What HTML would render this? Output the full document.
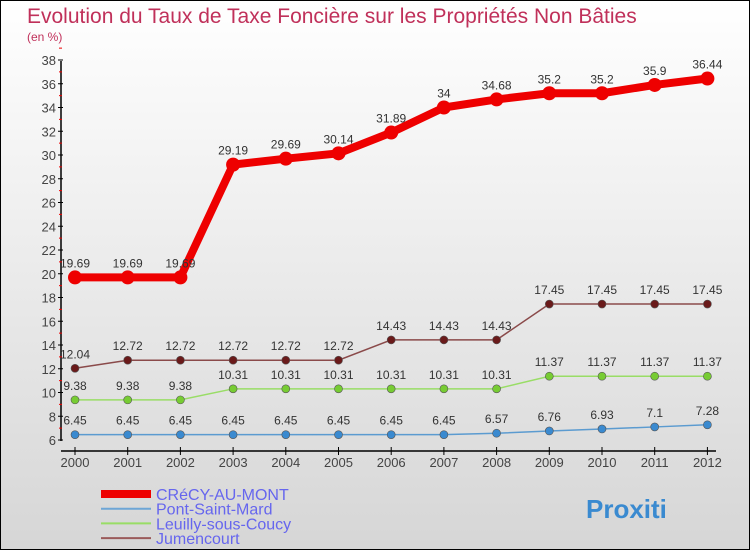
<!DOCTYPE html>
<html><head><meta charset="utf-8"><style>
body{margin:0}
#c{width:748px;height:548px;border:1px solid #000;background:linear-gradient(#fff,#d6d6d6);position:relative;font-family:"Liberation Sans",sans-serif}
</style></head><body>
<div id="c">
<svg id="s" width="748" height="548" style="position:absolute;left:0;top:0">
<text x="26" y="22" font-size="21" fill="#c0305a">Evolution du Taux de Taxe Foncière sur les Propriétés Non Bâties</text>
<text x="26" y="40" font-size="12" fill="#c0305a">(en %)</text>
<g id="g"></g>
</svg>
</div>
<script>
const years=[2000,2001,2002,2003,2004,2005,2006,2007,2008,2009,2010,2011,2012];
const crecy=[19.69,19.69,19.69,29.19,29.69,30.14,31.89,34,34.68,35.2,35.2,35.9,36.44];
const pont=[6.45,6.45,6.45,6.45,6.45,6.45,6.45,6.45,6.57,6.76,6.93,7.1,7.28];
const leuilly=[9.38,9.38,9.38,10.31,10.31,10.31,10.31,10.31,10.31,11.37,11.37,11.37,11.37];
const jumen=[12.04,12.72,12.72,12.72,12.72,12.72,14.43,14.43,14.43,17.45,17.45,17.45,17.45];
const yTicks=[6,8,10,12,14,16,18,20,22,24,26,28,30,32,34,36,38];
const names=["CRéCY-AU-MONT","Pont-Saint-Mard","Leuilly-sous-Coucy","Jumencourt"];
const X=i=>74+i*52.7, Y=v=>439-(v-6)*11.875;
const g=document.getElementById('g');const NS="http://www.w3.org/2000/svg";
function mk(t,a,txt){const e=document.createElementNS(NS,t);for(const k in a)e.setAttribute(k,a[k]);if(txt!==undefined)e.textContent=txt;g.appendChild(e);return e;}
let e=mk('line',{x1:60,y1:60,x2:60,y2:440,stroke:'#000','stroke-width':1.5});


e=mk('line',{x1:60,y1:450,x2:715,y2:450,stroke:'#000','stroke-width':1.5});


yTicks.forEach(v=>{
 mk('line',{x1:57,x2:62,y1:Y(v),y2:Y(v),stroke:'#000'});
 mk('line',{x1:58,x2:61,y1:Y(v+1),y2:Y(v+1),stroke:'#e00'});
 e=mk('text',{x:55,y:Y(v)+5,'font-size':13,fill:'#444','text-anchor':'end'},v);
 
 
});
years.forEach((yr,i)=>{
 mk('line',{x1:X(i),x2:X(i),y1:446,y2:454,stroke:'#000'});
 e=mk('text',{x:X(i),y:466,'font-size':13,fill:'#444','text-anchor':'middle'},yr);
 
 
});
const series=[[pont,'#5b9bd0','#3a8ad0',1.5,4],[leuilly,'#99dd66','#77cc33',1.5,4],[jumen,'#8a4a4a','#6a1a1a',1.5,4],[crecy,'#ee0000','#ee0000',8,7]];
const snames=['pont-saint-mard','leuilly-sous-coucy','jumencourt','crecy-au-mont'];
series.forEach(([d,lc,pc,w,r],si)=>{
 e=mk('polyline',{points:d.map((v,i)=>X(i)+','+Y(v)).join(' '),fill:'none',stroke:lc,'stroke-width':w});
 
 
 d.forEach((v,i)=>{
  e=mk('circle',{cx:X(i),cy:Y(v),r:r,fill:pc,stroke:'#555','stroke-width':si==3?0:0.6});
  
  
  e=mk('text',{x:X(i),y:Y(v)-10,'font-size':12,fill:'#333','text-anchor':'middle'},String(v).replace(/^(\d+)$/,'$1'));
  
  
 });
});
const lcols=['#ee0000','#6ea6d6','#99dd66','#9a5a5a'],lw=[8,2,2,2];
names.forEach((n,i)=>{
 const y=493+i*14.7;
 e=mk('line',{x1:100,x2:150,y1:y,y2:y,stroke:lcols[i],'stroke-width':lw[i]});
 
 
 e=mk('text',{x:155,y:y+6,'font-size':16,fill:'#6666ee'},n);
 
 
});
e=mk('text',{x:585,y:517,'font-size':26,'font-weight':'bold',fill:'#3a8ad0'},'Proxiti');


</script>
</body></html>
